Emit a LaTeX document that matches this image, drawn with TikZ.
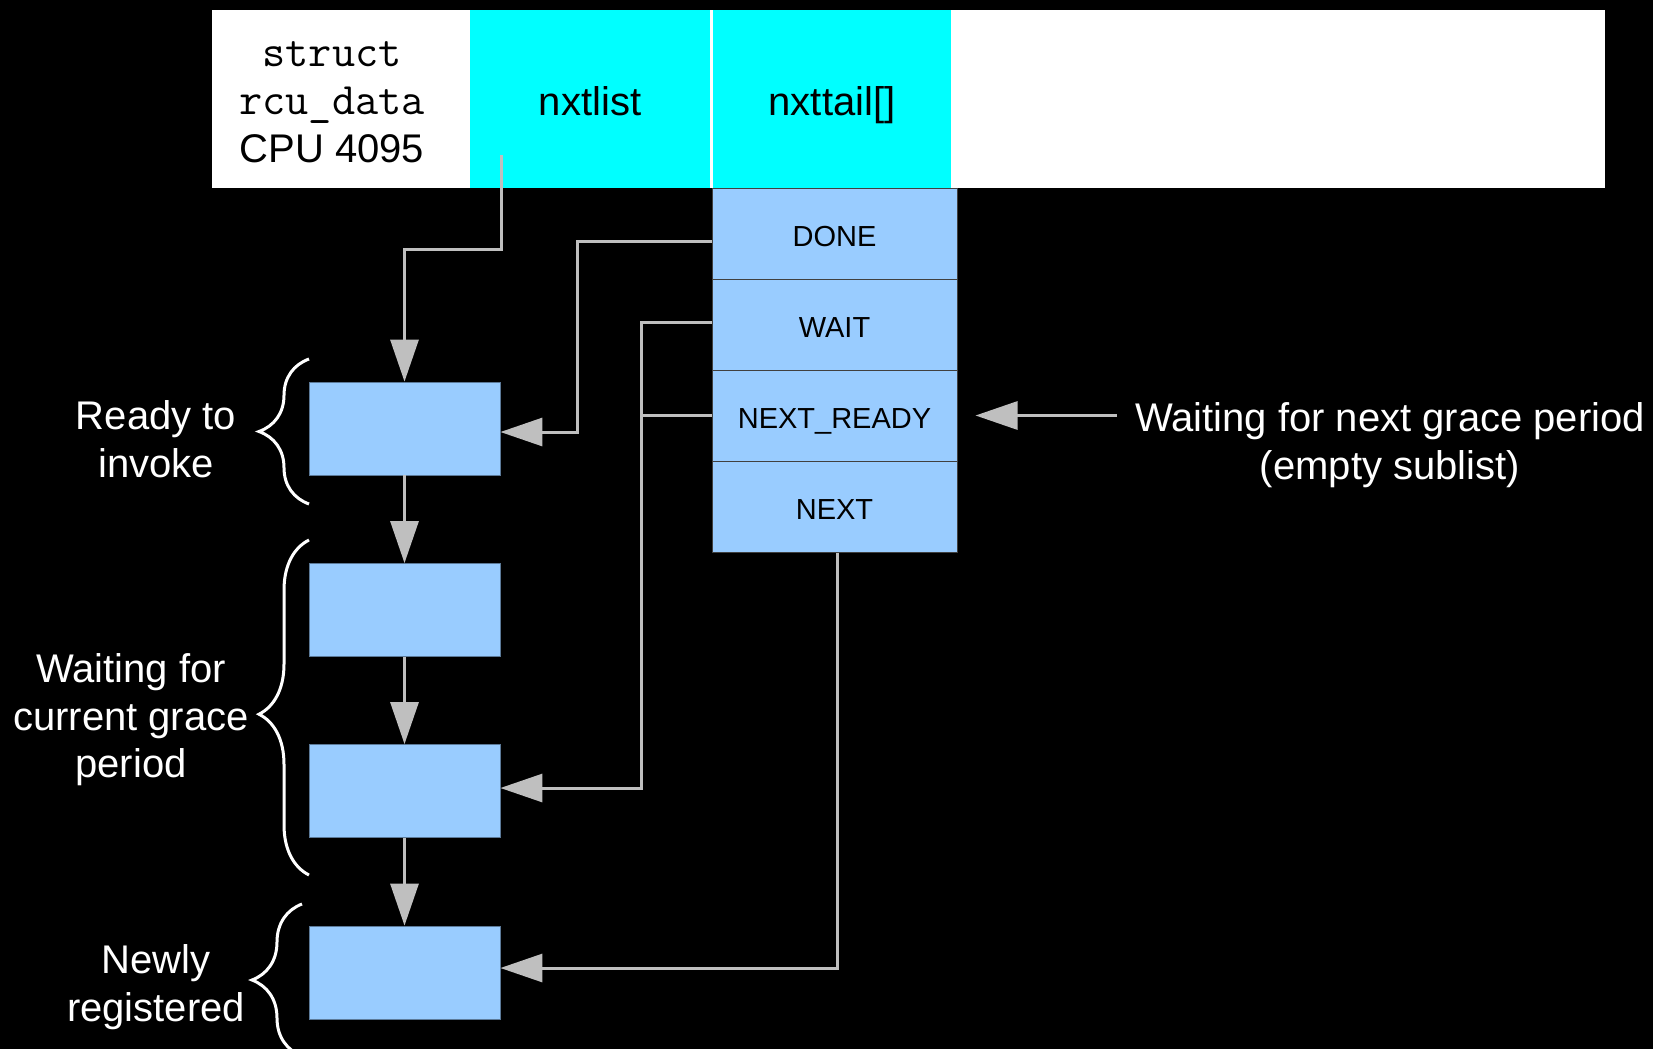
\documentclass[tikz,border=0pt]{standalone}
\usepackage{fontspec}
\setmainfont{Liberation Sans}
\usetikzlibrary{arrows.meta,decorations.pathreplacing,calc}
\definecolor{lblue}{HTML}{99CCFF}
\definecolor{cyanc}{HTML}{00FFFF}
\definecolor{arrg}{HTML}{BFBFBF}
\begin{document}
\begin{tikzpicture}[x=0.5pt,y=-0.5pt,
  lbox/.style={fill=lblue, draw=lblue!60!black, line width=0.4pt, minimum width=95.5pt, minimum height=46.5pt, inner sep=0pt},
  rowbox/.style={fill=lblue, draw=black!75, line width=0.5pt, minimum width=122.5pt, minimum height=45.5pt, inner sep=0pt, text height=13pt, text depth=0pt, font=\fontsize{14.5}{17}\selectfont},
  cell/.style={fill=cyanc, minimum height=89.25pt, inner sep=0pt, text height=16.5pt, text depth=0pt, font=\fontsize{20}{24}\selectfont},
  conn/.style={draw=arrg, line width=1.5pt},
  arr/.style={conn, -{Triangle[length=21pt,width=14pt]}},
  lab/.style={text=white, align=center, font=\fontsize{20}{23.75}\selectfont, inner sep=0pt},
  brc/.style={draw=white, line width=1.5pt, decorate, decoration={brace, amplitude=25pt, aspect=#1}},
  brc/.default=0.5
]
\fill[black] (0,0) rectangle (1653,1049);
\useasboundingbox (0,0) rectangle (1653,1049);

% top structure
\node[fill=white, minimum width=696.5pt, minimum height=89.25pt, inner sep=0pt] (bar) at (908.5,98.75) {};
\node[align=center, inner sep=0pt, font=\fontsize{20}{24}\selectfont] (st) at (332,102)
  {{\fontsize{22.5}{24}\selectfont\ttfamily struct}\\{\fontsize{22.5}{24}\selectfont\ttfamily rcu\_data}\\CPU 4095};
\node[cell, minimum width=120pt] (nl) at (590,98.75) {nxtlist};
\node[cell, minimum width=119pt] (nt) at (832,98.75) {nxttail[]};

% nxttail array
\node[rowbox] (done) at (834.5,233.5) {DONE};
\node[rowbox] (wait) at (834.5,324.5) {WAIT};
\node[rowbox] (nr) at (834.5,415.5) {NEXT\_READY};
\node[rowbox] (nx) at (834.5,506.5) {NEXT};

% callback list
\node[lbox] (b1) at (404.5,428.5) {};
\node[lbox] (b2) at (404.5,610) {};
\node[lbox] (b3) at (404.5,791) {};
\node[lbox] (b4) at (404.5,972.5) {};

% connectors
\coordinate (nlp) at (501,155);
\draw[arr] (nlp) -- (501,249) -| (b1.north);
\draw[arr] ([yshift=-3.75pt]done.west) -- ++(-134,0) |- ([yshift=-1.75pt]b1.east);
\draw[arr] ([yshift=1.25pt]wait.west) -- ++(-70,0) |- ([yshift=1.5pt]b3.east);
\draw[conn] (nr.west) -- ++(-70,0);
\draw[arr] ([xshift=1.25pt]nx.south) |- ([yshift=2.25pt]b4.east);
\draw[arr] (b1) -- (b2);
\draw[arr] (b2) -- (b3);
\draw[arr] (b3) -- (b4);

% right label
\node[lab] (wl) at (1390,445) {Waiting for next grace period\\(empty sublist)};
\draw[arr, shorten >=9pt] ([xshift=-9pt]wl.west |- nr.east) -- (nr.east);

% braces and labels
\draw[brc] (309,504) -- (309,359);
\draw[brc=0.48] (309,875) -- (309,540);
\draw[brc] (302,1056) -- (302,904);
\node[lab] (l1) at (156,439) {Ready to\\invoke};
\node[lab] (l2) at (131,720) {Waiting for\\current grace\\period};
\node[lab] (l3) at (156,987) {Newly\\registered};
\end{tikzpicture}
\end{document}
